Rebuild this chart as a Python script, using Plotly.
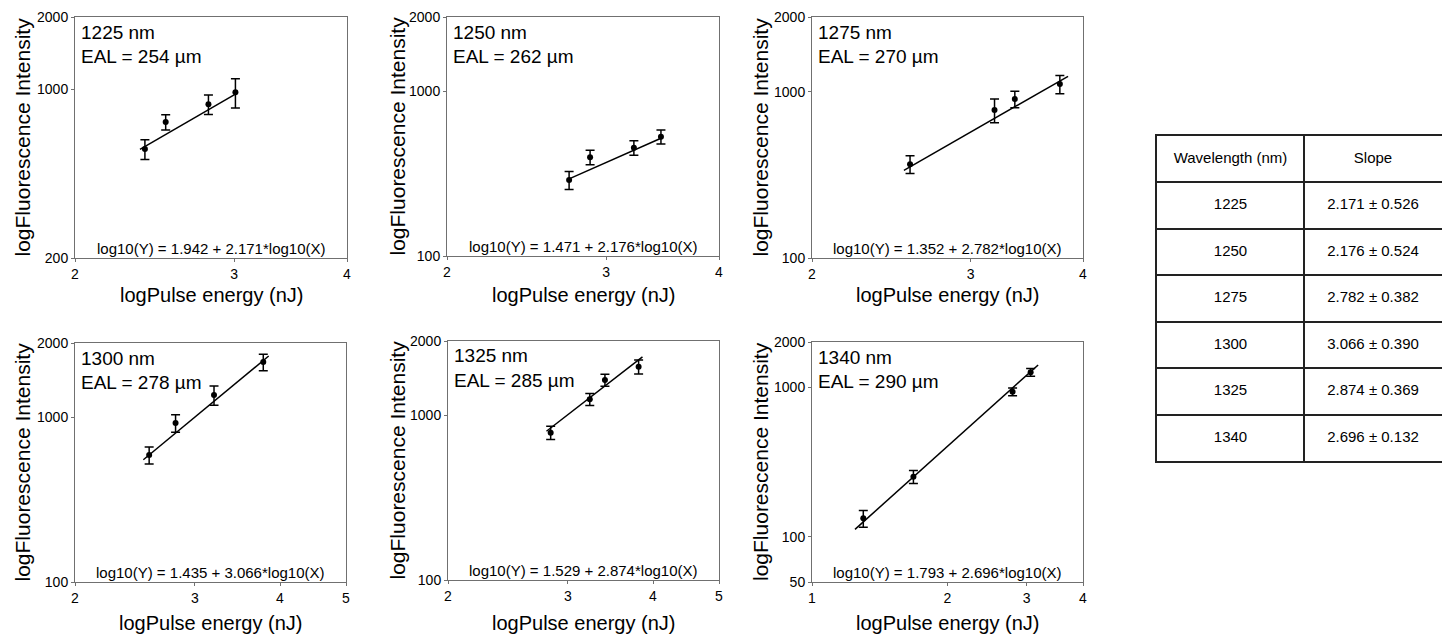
import numpy as np
import plotly.graph_objects as go

W, H = 1442, 634

wavelengths = [1225, 1250, 1275, 1300, 1325, 1340]
eal_um = [254, 262, 270, 278, 285, 290]
intercepts = [1.942, 1.471, 1.352, 1.435, 1.529, 1.793]
slopes = [2.171, 2.176, 2.782, 3.066, 2.874, 2.696]
slope_err = [0.526, 0.524, 0.382, 0.390, 0.369, 0.132]

# pulse energy (nJ), fluorescence intensity, error
p1_x = [2.39, 2.52, 2.81, 3.01]
p1_y = [566, 733, 869, 974]
p1_e = [53, 53, 81, 135]
p2_x = [2.73, 2.88, 3.22, 3.45]
p2_y = [259, 345, 389, 446]
p2_e = [29, 31, 35, 39]
p3_x = [2.57, 3.19, 3.36, 3.77]
p3_y = [321, 630, 721, 869]
p3_e = [35, 92, 74, 99]
p4_x = [2.57, 2.81, 3.20, 3.78]
p4_y = [491, 733, 1042, 1576]
p4_e = [52, 80, 125, 162]
p5_x = [2.83, 3.23, 3.40, 3.81]
p5_y = [634, 963, 1227, 1449]
p5_e = [52, 73, 93, 126]
p6_x = [1.30, 1.68, 2.79, 3.06]
p6_y = [133, 252, 931, 1256]
p6_e = [17, 25, 54, 73]

# x extent of the drawn regression line
fit_xmin = [2.36, 2.73, 2.53, 2.52, 2.79, 1.246]
fit_xmax = [3.02, 3.45, 3.85, 3.85, 3.86, 3.18]

# axis ranges and tick labels
x_ranges = [(2, 4), (2, 4), (2, 4), (2, 5), (2, 5), (1, 4)]
x_ticks = [[2, 3, 4], [2, 3, 4], [2, 3, 4], [2, 3, 4, 5], [2, 3, 4, 5], [1, 2, 3, 4]]
y_ranges = [(200, 2000), (100, 2000), (100, 2000), (100, 2000), (100, 2000), (50, 2000)]
y_tickvals = [[200, 1000, 2000], [100, 790, 2000], [100, 790, 2000],
              [100, 790, 2000], [100, 790, 2000], [50, 100, 1000, 2000]]
y_ticktext = [["200", "1000", "2000"], ["100", "1000", "2000"], ["100", "1000", "2000"],
              ["100", "1000", "2000"], ["100", "1000", "2000"], ["50", "100", "1000", "2000"]]

# table
table_header = ["Wavelength (nm)", "Slope"]
table_col_edges = [0, 147, 285]

xs = [p1_x, p2_x, p3_x, p4_x, p5_x, p6_x]
ys = [p1_y, p2_y, p3_y, p4_y, p5_y, p6_y]
es = [p1_e, p2_e, p3_e, p4_e, p5_e, p6_e]

# panel boxes in pixels (left, right, top, bottom)
boxes = [(75, 347, 17, 258), (447, 719, 17, 256), (812, 1083, 17, 258),
         (75, 346, 343, 582), (448, 719, 341, 580), (812, 1083, 342, 582)]
ytitle_x = [22, 397, 760, 22, 397, 760]
table_box = (1157, 1442, 136, 461)

FONT = "Arial, Liberation Sans, sans-serif"

fig = go.Figure()
annotations = []

for i in range(6):
    ax = "" if i == 0 else str(i + 1)
    xa, ya = "x" + ax, "y" + ax
    L, R, T, B = boxes[i]
    fig.add_trace(go.Scatter(
        x=xs[i], y=ys[i], xaxis=xa, yaxis=ya, mode="markers",
        marker=dict(color="black", size=6),
        error_y=dict(type="data", array=es[i], color="black", thickness=1.5, width=4.5),
        showlegend=False, hoverinfo="x+y"))
    lx = np.array([fit_xmin[i], fit_xmax[i]])
    ly = 10 ** (intercepts[i] + slopes[i] * np.log10(lx))
    fig.add_trace(go.Scatter(
        x=lx, y=ly, xaxis=xa, yaxis=ya, mode="lines",
        line=dict(color="black", width=1.5), showlegend=False, hoverinfo="skip"))

    axis_common = dict(type="log", showgrid=False, zeroline=False, showline=True,
                       linecolor="#707070", linewidth=1, mirror=True, automargin=False,
                       ticks="outside", ticklen=3, tickcolor="#707070",
                       tickfont=dict(family=FONT, size=14, color="black"))
    fig.layout["xaxis" + ax] = dict(
        axis_common, domain=[L / W, R / W], anchor=ya,
        range=[np.log10(x_ranges[i][0]), np.log10(x_ranges[i][1])],
        tickvals=x_ticks[i], ticktext=[str(t) for t in x_ticks[i]])
    fig.layout["yaxis" + ax] = dict(
        axis_common, domain=[1 - B / H, 1 - T / H], anchor=xa,
        range=[np.log10(y_ranges[i][0]), np.log10(y_ranges[i][1])],
        tickvals=y_tickvals[i], ticktext=y_ticktext[i])

    annotations.append(dict(xref="paper", yref="paper", x=(L + 4) / W, y=1 - (T + 15) / H,
                            xanchor="left", yanchor="middle", showarrow=False,
                            text=f"{wavelengths[i]} nm", font=dict(family=FONT, size=19, color="black")))
    annotations.append(dict(xref="paper", yref="paper", x=(L + 4) / W, y=1 - (T + 39) / H,
                            xanchor="left", yanchor="middle", showarrow=False,
                            text=f"EAL = {eal_um[i]} µm", font=dict(family=FONT, size=19, color="black")))
    annotations.append(dict(xref="paper", yref="paper", x=(L + R) / 2 / W, y=1 - (B - 10) / H,
                            xanchor="center", yanchor="middle", showarrow=False,
                            text=f"log10(Y) = {intercepts[i]:.3f} + {slopes[i]:.3f}*log10(X)",
                            font=dict(family=FONT, size=15, color="black")))
    annotations.append(dict(xref="paper", yref="paper", x=(L + R) / 2 / W,
                            y=1 - (295 if i < 3 else 623) / H,
                            xanchor="center", yanchor="middle", showarrow=False,
                            text="logPulse energy (nJ)", font=dict(family=FONT, size=20, color="black")))
    annotations.append(dict(xref="paper", yref="paper", x=ytitle_x[i] / W, y=1 - (T + B) / 2 / H,
                            xanchor="center", yanchor="middle", showarrow=False, textangle=-90,
                            text="logFluorescence Intensity", font=dict(family=FONT, size=21, color="black")))

# table drawn on its own axes: columns in x, rows in y (header on top)
n_rows = len(wavelengths) + 1
col_centers = [(table_col_edges[j] + table_col_edges[j + 1]) / 2 for j in range(2)]
row_texts = [table_header] + [[str(w), f"{s:.3f} ± {e:.3f}"] for w, s, e in
                              zip(wavelengths, slopes, slope_err)]
tx, ty, tt = [], [], []
for r, row in enumerate(row_texts):
    for j, txt in enumerate(row):
        tx.append(col_centers[j])
        ty.append(n_rows - r - 0.5)
        tt.append(txt)
fig.add_trace(go.Scatter(x=tx, y=ty, text=tt, mode="text", xaxis="x7", yaxis="y7",
                         textposition="middle center",
                         textfont=dict(family=FONT, size=15, color="black"),
                         showlegend=False, hoverinfo="skip"))
TL, TR, TT, TB = table_box
grid_common = dict(showgrid=True, gridcolor="#222222", gridwidth=1.5, zeroline=False,
                   showline=True, linecolor="#222222", linewidth=1.5, mirror=True,
                   showticklabels=False, ticks="", automargin=False, fixedrange=True)
fig.layout["xaxis7"] = dict(grid_common, domain=[TL / W, TR / W], anchor="y7",
                            range=[table_col_edges[0], table_col_edges[-1]],
                            tickvals=table_col_edges[1:-1])
fig.layout["yaxis7"] = dict(grid_common, domain=[1 - TB / H, 1 - TT / H], anchor="x7",
                            range=[0, n_rows], tickvals=list(range(1, n_rows)))

fig.update_layout(width=W, height=H, margin=dict(l=0, r=0, t=0, b=0, autoexpand=False),
                  paper_bgcolor="white", plot_bgcolor="white",
                  annotations=annotations, showlegend=False)

fig.write_html("out.html", config={"displayModeBar": False},
               post_script="document.body.style.margin='0';document.body.style.padding='0';"
                           "document.documentElement.style.overflow='hidden';")
